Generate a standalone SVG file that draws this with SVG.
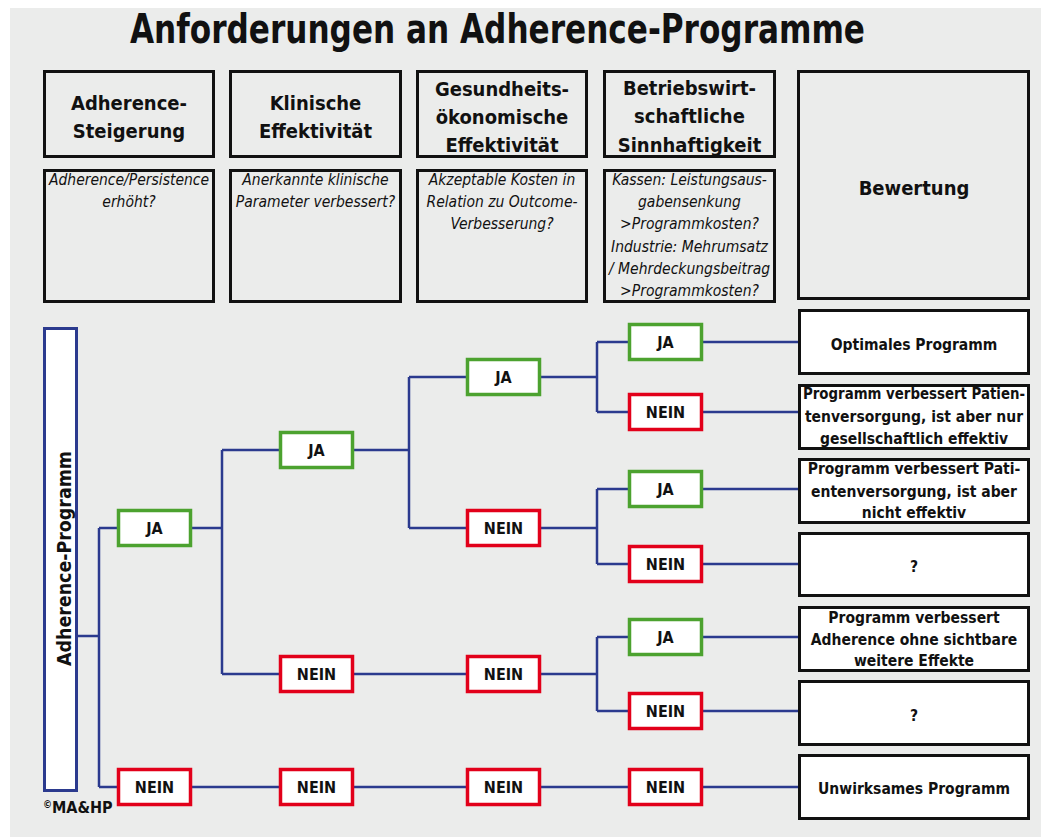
<svg xmlns="http://www.w3.org/2000/svg" width="1041" height="837" viewBox="0 0 1041 837">
<style>
text{font-family:"DejaVu Sans Condensed","DejaVu Sans",sans-serif;font-stretch:condensed;fill:#111;text-anchor:middle}
.title{font-size:40px;font-weight:bold}
.hd{font-size:20px;font-weight:bold}
.it{font-size:15.5px;font-style:italic}
.dec{font-size:16px;font-weight:bold}
.out{font-size:15.5px;font-weight:bold}
.hbox{fill:none;stroke:#111;stroke-width:3}
.obox{fill:#fff;stroke:#111;stroke-width:3}
.ja{fill:#fff;stroke:#4ca22f;stroke-width:3.5}
.nein{fill:#fff;stroke:#e2001a;stroke-width:3.5}
.conn{fill:none;stroke:#2b3a8e;stroke-width:2.5}
</style>
<rect x="10" y="8" width="1031" height="829" fill="#ebeceb"/>
<text class="title" x="497.5" y="43" textLength="735" lengthAdjust="spacingAndGlyphs">Anforderungen an Adherence-Programme</text>

<g id="header-adherence">
<rect class="hbox" x="44.5" y="71.5" width="169" height="85"/>
<text class="hd" x="129" y="110">Adherence-</text>
<text class="hd" x="129" y="138">Steigerung</text>
<rect class="hbox" x="44.5" y="170.5" width="169" height="131"/>
<text class="it" x="129" y="185">Adherence/Persistence</text>
<text class="it" x="129" y="207">erhöht?</text>
</g>
<g id="header-klinisch">
<rect class="hbox" x="230.5" y="71.5" width="170" height="85"/>
<text class="hd" x="315.5" y="110">Klinische</text>
<text class="hd" x="315.5" y="138">Effektivität</text>
<rect class="hbox" x="230.5" y="170.5" width="170" height="131"/>
<text class="it" x="315.5" y="185">Anerkannte klinische</text>
<text class="it" x="315.5" y="207">Parameter verbessert?</text>
</g>
<g id="header-gesundheit">
<rect class="hbox" x="417.5" y="71.5" width="169" height="85"/>
<text class="hd" x="502" y="96">Gesundheits-</text>
<text class="hd" x="502" y="124">ökonomische</text>
<text class="hd" x="502" y="152">Effektivität</text>
<rect class="hbox" x="417.5" y="170.5" width="169" height="131"/>
<text class="it" x="502" y="185">Akzeptable Kosten in</text>
<text class="it" x="502" y="207">Relation zu Outcome-</text>
<text class="it" x="502" y="229">Verbesserung?</text>
</g>
<g id="header-betrieb">
<rect class="hbox" x="604.5" y="71.5" width="170" height="85"/>
<text class="hd" x="689.5" y="95">Betriebswirt-</text>
<text class="hd" x="689.5" y="123">schaftliche</text>
<text class="hd" x="689.5" y="152">Sinnhaftigkeit</text>
<rect class="hbox" x="604.5" y="170.5" width="170" height="131"/>
<text class="it" x="689.5" y="185">Kassen: Leistungsaus-</text>
<text class="it" x="689.5" y="207">gabensenkung</text>
<text class="it" x="689.5" y="229">&gt;Programmkosten?</text>
<text class="it" x="689.5" y="252">Industrie: Mehrumsatz</text>
<text class="it" x="689.5" y="274">/ Mehrdeckungsbeitrag</text>
<text class="it" x="689.5" y="296">&gt;Programmkosten?</text>
</g>
<g id="header-bewertung">
<rect class="hbox" x="798.5" y="71.5" width="230" height="227"/>
<text class="hd" x="914" y="195">Bewertung</text>
</g>

<g id="connectors">
<path class="conn" d="M77,636H99M99,528V787M99,528H117M99,787H117"/>
<path class="conn" d="M192,528H222M222,450V674M222,450H279M222,674H279M192,787H279"/>
<path class="conn" d="M354,450H409M409,377V528M409,377H466M409,528H466M354,674H466M354,787H466"/>
<path class="conn" d="M541,377H597M597,342V412M597,342H628M597,412H628"/>
<path class="conn" d="M541,528H597M597,489V564M597,489H628M597,564H628"/>
<path class="conn" d="M541,674H597M597,637V711M597,637H628M597,711H628M541,787H628"/>
<path class="conn" d="M703,342H798M703,412H798M703,489H798M703,564H798M703,637H798M703,711H798M703,787H798"/>
</g>

<g id="adherence-programm">
<rect x="44.5" y="328.5" width="32" height="462" fill="#fff" stroke="#2b3a8e" stroke-width="3"/>
<text class="hd" transform="translate(70.5,558.5) rotate(-90)" x="0" y="0" textLength="215" lengthAdjust="spacingAndGlyphs">Adherence-Programm</text>
</g>

<g id="l1-ja"><rect class="ja" x="118.5" y="510.5" width="72" height="35"/><text class="dec" x="154.5" y="534">JA</text></g>
<g id="l1-nein"><rect class="nein" x="118.5" y="769.5" width="72" height="35"/><text class="dec" x="154.5" y="793">NEIN</text></g>
<g id="l2-ja"><rect class="ja" x="280.5" y="432.5" width="72" height="35"/><text class="dec" x="316.5" y="456">JA</text></g>
<g id="l2-nein"><rect class="nein" x="280.5" y="656.5" width="72" height="35"/><text class="dec" x="316.5" y="680">NEIN</text></g>
<g id="l2-nein-b"><rect class="nein" x="280.5" y="769.5" width="72" height="35"/><text class="dec" x="316.5" y="793">NEIN</text></g>
<g id="l3-ja"><rect class="ja" x="467.5" y="359.5" width="72" height="35"/><text class="dec" x="503.5" y="383">JA</text></g>
<g id="l3-nein"><rect class="nein" x="467.5" y="510.5" width="72" height="35"/><text class="dec" x="503.5" y="534">NEIN</text></g>
<g id="l3-nein-c"><rect class="nein" x="467.5" y="656.5" width="72" height="35"/><text class="dec" x="503.5" y="680">NEIN</text></g>
<g id="l3-nein-b"><rect class="nein" x="467.5" y="769.5" width="72" height="35"/><text class="dec" x="503.5" y="793">NEIN</text></g>
<g id="l4-ja-a"><rect class="ja" x="629.5" y="324.5" width="72" height="35"/><text class="dec" x="665.5" y="348">JA</text></g>
<g id="l4-nein-a"><rect class="nein" x="629.5" y="394.5" width="72" height="35"/><text class="dec" x="665.5" y="418">NEIN</text></g>
<g id="l4-ja-b"><rect class="ja" x="629.5" y="471.5" width="72" height="35"/><text class="dec" x="665.5" y="495">JA</text></g>
<g id="l4-nein-b"><rect class="nein" x="629.5" y="546.5" width="72" height="35"/><text class="dec" x="665.5" y="570">NEIN</text></g>
<g id="l4-ja-c"><rect class="ja" x="629.5" y="619.5" width="72" height="35"/><text class="dec" x="665.5" y="643">JA</text></g>
<g id="l4-nein-c"><rect class="nein" x="629.5" y="693.5" width="72" height="35"/><text class="dec" x="665.5" y="717">NEIN</text></g>
<g id="l4-nein-d"><rect class="nein" x="629.5" y="769.5" width="72" height="35"/><text class="dec" x="665.5" y="793">NEIN</text></g>

<g id="out-a"><rect class="obox" x="799.5" y="310.5" width="229" height="63"/><text class="out" x="914" y="350">Optimales Programm</text></g>
<g id="out-b"><rect class="obox" x="799.5" y="385.5" width="229" height="63"/>
<text class="out" x="914" y="399" textLength="222" lengthAdjust="spacingAndGlyphs">Programm verbessert Patien-</text>
<text class="out" x="914" y="422">tenversorgung, ist aber nur</text>
<text class="out" x="914" y="444">gesellschaftlich effektiv</text></g>
<g id="out-c"><rect class="obox" x="799.5" y="459.5" width="229" height="63"/>
<text class="out" x="914" y="474">Programm verbessert Pati-</text>
<text class="out" x="914" y="497">entenversorgung, ist aber</text>
<text class="out" x="914" y="518">nicht effektiv</text></g>
<g id="out-d"><rect class="obox" x="799.5" y="533.5" width="229" height="62"/><text class="out" x="914" y="572">?</text></g>
<g id="out-e"><rect class="obox" x="799.5" y="607.5" width="229" height="63"/>
<text class="out" x="914" y="623">Programm verbessert</text>
<text class="out" x="914" y="645">Adherence ohne sichtbare</text>
<text class="out" x="914" y="666">weitere Effekte</text></g>
<g id="out-f"><rect class="obox" x="799.5" y="681.5" width="229" height="63"/><text class="out" x="914" y="721">?</text></g>
<g id="out-g"><rect class="obox" x="799.5" y="755.5" width="229" height="63"/><text class="out" x="914" y="794">Unwirksames Programm</text></g>

<text x="43" y="813" style="text-anchor:start;font-size:16px;font-weight:bold"><tspan font-size="10" dy="-5">©</tspan><tspan dy="5">MA&amp;HP</tspan></text>
</svg>
